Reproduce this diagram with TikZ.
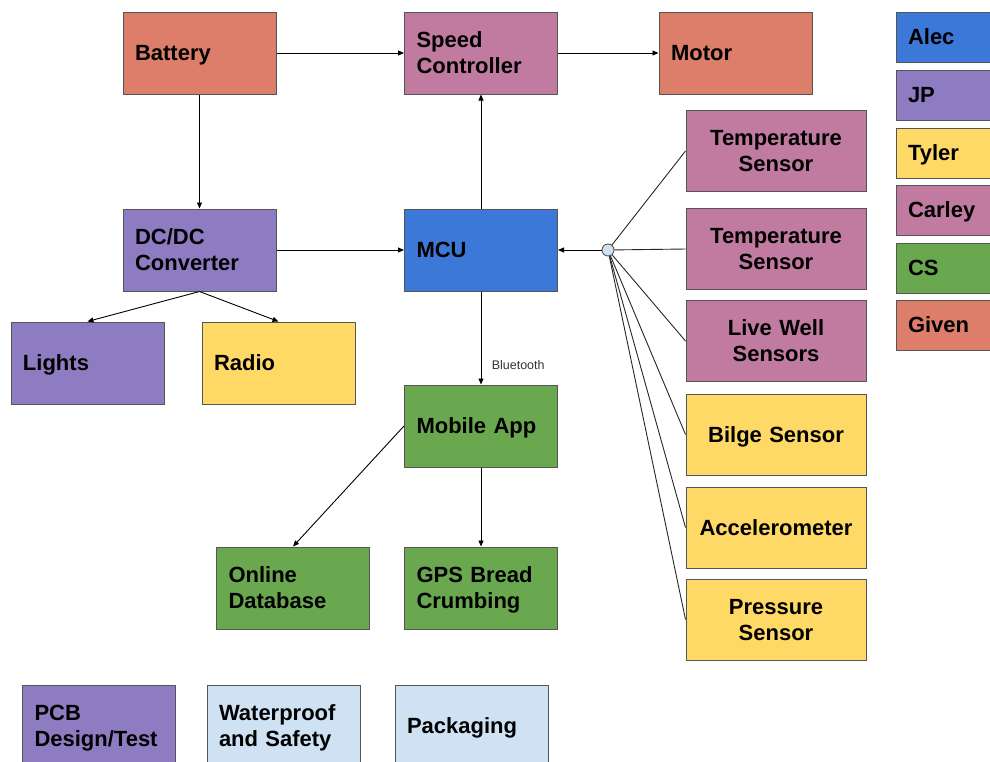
\documentclass[tikz,border=0pt]{standalone}
\usepackage{fontspec}
\setmainfont{Liberation Sans}
\usetikzlibrary{arrows.meta}
\definecolor{cgiven}{HTML}{DD7E6B}
\definecolor{ccarley}{HTML}{C27BA0}
\definecolor{cjp}{HTML}{8E7CC3}
\definecolor{calec}{HTML}{3C78D8}
\definecolor{ctyler}{HTML}{FFD966}
\definecolor{ccs}{HTML}{6AA84F}
\definecolor{cmisc}{HTML}{CFE2F3}
\definecolor{cedge}{HTML}{555555}
\tikzset{
  blk/.style={draw=cedge, line width=1pt, rectangle, inner xsep=12pt, inner ysep=0pt,
    font=\fontsize{22}{26}\selectfont\bfseries, text=black, text depth=0pt},
  % two lines of text: depth spans one baseline skip
  two/.style={text depth=26pt},
  wide/.style={blk, minimum width=153pt, minimum height=82pt, text width=129pt, align=left},
  sens/.style={blk, minimum width=180pt, minimum height=81pt, text width=156pt, align=center},
  legend/.style={blk, minimum width=114pt, minimum height=50pt, text width=90pt, align=left},
  link/.style={draw=black, line width=0.9pt, -{Triangle[length=6pt,width=5pt]}},
  wire/.style={draw=black!85, line width=0.9pt},
  hub/.style={circle, draw=cedge, fill=cmisc, line width=0.9pt, minimum size=12pt, inner sep=0pt},
  tag/.style={font=\fontsize{12.5}{14}\selectfont, text=black!80}
}
\begin{document}
\begin{tikzpicture}[x=1pt, y=-1pt]
\useasboundingbox (0,0) rectangle (990,761);
\clip (0,0) rectangle (990,761);

% power and drive chain
\node[wide, fill=cgiven]       (battery) at (199.5,53) {Battery};
\node[wide, two, fill=ccarley] (speed)   at (481,53)   {Speed\\Controller};
\node[wide, fill=cgiven]       (motor)   at (735.5,53) {Motor};
\node[wide, two, fill=cjp]     (dcdc)    at (199.5,250) {DC/DC\\Converter};
\node[wide, fill=calec]        (mcu)     at (481,250)  {MCU};
\node[wide, fill=cjp]          (lights)  at (87.5,363) {Lights};
\node[wide, fill=ctyler]       (radio)   at (278.5,363) {Radio};

% software side
\node[wide, fill=ccs]      (app)    at (481,426) {Mobile App};
\node[wide, two, fill=ccs] (db)     at (293,588) {Online\\Database};
\node[wide, two, fill=ccs] (gps)    at (481,588) {GPS Bread\\Crumbing};

% sensors
\node[sens, two, fill=ccarley] (temp1) at (776,151)   {Temperature\\Sensor};
\node[sens, two, fill=ccarley] (temp2) at (776,249)   {Temperature\\Sensor};
\node[sens, two, fill=ccarley] (well)  at (776,341)   {Live Well\\Sensors};
\node[sens, fill=ctyler]       (bilge) at (776,434.5) {Bilge Sensor};
\node[sens, fill=ctyler]       (accel) at (776,527.5) {Accelerometer};
\node[sens, two, fill=ctyler]  (press) at (776,619.5) {Pressure\\Sensor};
\node[hub] (hub) at (608,250) {};

% legend
\node[legend, fill=calec]   (lalec)   at (953,37)  {Alec};
\node[legend, fill=cjp]     (ljp)     at (953,95)  {JP};
\node[legend, fill=ctyler]  (ltyler)  at (953,153) {Tyler};
\node[legend, fill=ccarley] (lcarley) at (953,210) {Carley};
\node[legend, fill=ccs]     (lcs)     at (953,268) {CS};
\node[legend, fill=cgiven]  (lgiven)  at (953,325) {Given};

% other tasks
\node[wide, two, fill=cjp]   (pcb)   at (99,726)    {PCB\\Design/Test};
\node[wide, two, fill=cmisc] (water) at (283.5,726) {Waterproof\\and Safety};
\node[wide, fill=cmisc]      (pack)  at (471.5,726) {Packaging};

% connectors
\draw[link] (battery) -- (speed);
\draw[link] (speed) -- (motor);
\draw[link] (battery) -- (dcdc);
\draw[link] (dcdc) -- (mcu);
\draw[link] (mcu) -- (speed);
\draw[link] (dcdc.south) -- (lights.north);
\draw[link] (dcdc.south) -- (radio.north);
\draw[link] (mcu) -- (app) node[tag, pos=0.77, right=7pt, yshift=-2pt] {Bluetooth};
\draw[link] (app.west) -- (db.north);
\draw[link] (app) -- (gps);
\draw[link] (hub) -- (mcu);
\foreach \s in {temp1,temp2,well,bilge,accel,press}
  \draw[wire] (hub) -- (\s.west);
\end{tikzpicture}
\end{document}
